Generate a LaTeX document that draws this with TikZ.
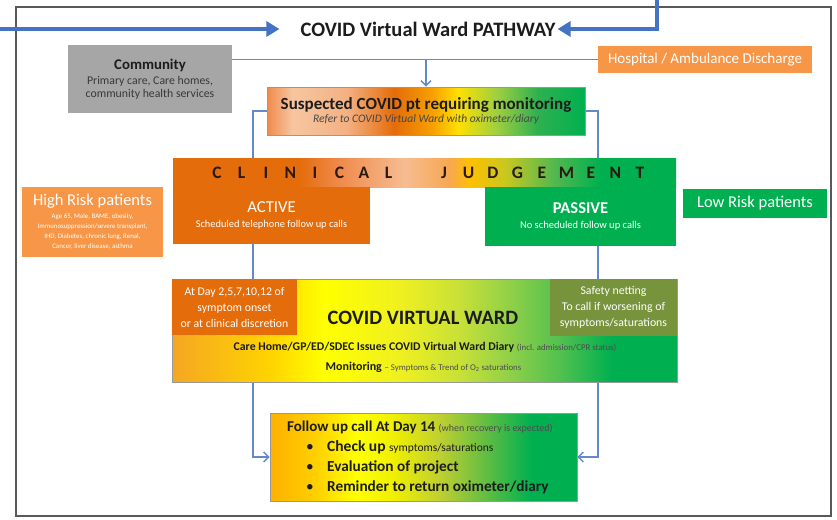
\documentclass[tikz,border=0pt]{standalone}
\usepackage{fontspec}
\setmainfont{Carlito}
\usetikzlibrary{arrows.meta,backgrounds}
\definecolor{dorange}{HTML}{E46C0A}
\definecolor{lorange}{HTML}{F79646}
\definecolor{vgreen}{HTML}{00B050}
\definecolor{olivebox}{HTML}{77933C}
\definecolor{cgray}{HTML}{A6A6A6}
\definecolor{vblue}{HTML}{4472C4}
\definecolor{cblue}{HTML}{6189CC}
\definecolor{txt}{HTML}{1C1C1C}
\definecolor{cjtxt}{HTML}{2A1A0E}
% suspected box shading colours
\definecolor{sA}{HTML}{F08A4B}\definecolor{sB}{HTML}{F6C6A0}\definecolor{sC}{HTML}{F4B183}
\definecolor{sD}{HTML}{E46C0A}\definecolor{sE}{HTML}{F7A000}\definecolor{sF}{HTML}{FFE000}
\definecolor{sG}{HTML}{A0D040}\definecolor{sH}{HTML}{30B050}\definecolor{sI}{HTML}{00B050}
% clinical judgement
\definecolor{cA}{HTML}{E46C0A}\definecolor{cB}{HTML}{F08A4B}\definecolor{cC}{HTML}{F6BC92}
\definecolor{cD}{HTML}{F7A850}\definecolor{cE}{HTML}{FFC000}\definecolor{cF}{HTML}{C8C820}
\definecolor{cG}{HTML}{50B850}\definecolor{cH}{HTML}{00B050}
% virtual ward
\definecolor{vA}{HTML}{F5A623}\definecolor{vB}{HTML}{FFD500}\definecolor{vC}{HTML}{FFFF00}
\definecolor{vD}{HTML}{F0F020}\definecolor{vE}{HTML}{C8E038}\definecolor{vF}{HTML}{90D048}
\definecolor{vG}{HTML}{50C050}\definecolor{vH}{HTML}{00B050}
% follow up
\definecolor{fA}{HTML}{FFB000}\definecolor{fB}{HTML}{FFD000}\definecolor{fC}{HTML}{FFFF00}
\definecolor{fD}{HTML}{F0F000}\definecolor{fE}{HTML}{C0D030}\definecolor{fF}{HTML}{70C040}
\definecolor{fG}{HTML}{00B050}
\pgfdeclarehorizontalshading{sussh}{100bp}{color(0bp)=(sA); color(25bp)=(sA); color(29bp)=(sB); color(37.5bp)=(sC); color(45bp)=(sD); color(51bp)=(sE); color(55bp)=(sF); color(61bp)=(sG); color(67.5bp)=(sH); color(75bp)=(sI); color(100bp)=(sI)}
\pgfdeclarehorizontalshading{cjsh}{100bp}{color(0bp)=(cA); color(25bp)=(cA); color(37.5bp)=(cA); color(41.5bp)=(cB); color(48bp)=(cC); color(52.5bp)=(cD); color(54.5bp)=(cE); color(58bp)=(cF); color(63bp)=(cG); color(67.5bp)=(cH); color(100bp)=(cH)}
\pgfdeclarehorizontalshading{vwsh}{100bp}{color(0bp)=(vA); color(25bp)=(vA); color(35bp)=(vB); color(40bp)=(vC); color(47.5bp)=(vD); color(53.5bp)=(vE); color(58.5bp)=(vF); color(63.5bp)=(vG); color(68.5bp)=(vH); color(100bp)=(vH)}
\pgfdeclarehorizontalshading{fush}{100bp}{color(0bp)=(fA); color(25bp)=(fA); color(32.5bp)=(fB); color(39bp)=(fC); color(45bp)=(fD); color(52.5bp)=(fE); color(59bp)=(fF); color(67.5bp)=(fG); color(100bp)=(fG)}
\newcommand\fsz[2]{\fontsize{#1}{#2}\selectfont}
\newcommand\cjbox[1]{\makebox[24.5pt]{#1}}
\newcommand\bul{\makebox[21pt][l]{•}}
\begin{document}
\begin{tikzpicture}[x=1pt,y=-1pt,
  box/.style={inner sep=0pt, align=center, text=white},
  shbox/.style={box, shade, draw=black!40, line width=0.6pt, text=txt},
  lbl/.style={inner sep=0pt, text=txt},
  conn/.style={draw=cblue, line width=1.5pt},
  arr/.style={conn, -{Straight Barb[length=5pt,width=10pt]}},
  big/.style={draw=vblue, line width=3.8pt, -{Triangle[length=13pt,width=15pt]}}
]
\useasboundingbox (0,0) rectangle (837,519);
\draw[draw=black!65, line width=1.5pt] (16,7) rectangle (831,516);

% title and top arrows
\node[lbl, inner sep=2pt] (title) at (428,29) {\fsz{20.5}{24}\bfseries COVID Virtual Ward PATHWAY};
\coordinate (la) at (0,29);
\coordinate (ra) at (657,0);
\draw[big, shorten >=19pt] (la) -- (title.west);
\draw[big] (ra) |- (title.east);

% top row
\node[box, fill=cgray, text=black!78, font=\fsz{11.8}{12.5}, minimum width=164pt, minimum height=68pt] (com) at (150,79)
  {{\fsz{14.8}{17}\bfseries\color{txt}Community}\\[3pt]Primary care, Care homes,\\community health services};
\node[box, fill=lorange, font=\fsz{15}{17}, minimum width=214pt, minimum height=27pt] (hosp) at (705,59.5)
  {Hospital / Ambulance Discharge};

\node[shbox, shading=sussh, font=\fsz{11.5}{13}\itshape, text=black!72, minimum width=318pt, minimum height=48pt] (sus) at (426,111)
  {{\fsz{17}{19}\bfseries\upshape\color{txt}Suspected COVID pt requiring monitoring}\\Refer to COVID Virtual Ward with oximeter/diary};

% clinical judgement
\node[box, shade, shading=cjsh, minimum width=503pt, minimum height=29pt] (cj) at (424.5,172.5) {};
\node[lbl] (cjt) at (428.5,173) {\fsz{17.5}{19}\bfseries\color{cjtxt}\cjbox{C}\cjbox{L}\cjbox{I}\cjbox{N}\cjbox{I}\cjbox{C}\cjbox{A}\cjbox{L}\hspace{31pt}\cjbox{J}\cjbox{U}\cjbox{D}\cjbox{G}\cjbox{E}\cjbox{M}\cjbox{E}\cjbox{N}\cjbox{T}};

\node[box, fill=dorange, font=\fsz{10.4}{12}, minimum width=197pt, minimum height=57pt] (act) at (271.5,215.5)
  {{\fsz{16.7}{19}ACTIVE}\\[3pt]Scheduled telephone follow up calls};
\node[box, fill=vgreen, font=\fsz{10.5}{12}, minimum width=191pt, minimum height=59pt] (pas) at (580.5,216.5)
  {{\fsz{16.5}{19}\bfseries PASSIVE}\\[3pt]No scheduled follow up calls};

\node[box, fill=lorange, font=\fsz{6.9}{10}, minimum width=141pt, minimum height=70pt] (high) at (92.5,222)
  {{\fsz{16.5}{18}High Risk patients}\\[3pt]Age 65, Male, BAME, obesity,\\Immunosuppression/severe transplant,\\IHD, Diabetes, chronic lung, Renal,\\Cancer, liver disease, asthma};
\node[box, fill=vgreen, font=\fsz{16.5}{18}, minimum width=144pt, minimum height=29pt] (low) at (755,203.5)
  {Low Risk patients};

% virtual ward
\node[shbox, shading=vwsh, minimum width=505pt, minimum height=103pt] (vw) at (424.5,330.5) {};
\node[box, fill=dorange, font=\fsz{11.8}{16}, minimum width=125pt, minimum height=56pt] (vwl) at (234.5,307)
  {At Day 2,5,7,10,12 of\\symptom onset\\or at clinical discretion};
\node[box, fill=olivebox, font=\fsz{11.8}{16}, minimum width=127pt, minimum height=57pt] (vwr) at (613.5,307.5)
  {Safety netting\\To call if worsening of\\symptoms/saturations};
\node[lbl] (vwt) at (423,318) {\fsz{20.4}{24}\bfseries COVID VIRTUAL WARD};
\node[lbl] (vwd) at (425,347) {\fsz{11.8}{14}\bfseries Care Home/GP/ED/SDEC Issues COVID Virtual Ward Diary \fsz{8.8}{10}\mdseries\color{black!70}(incl. admission/CPR status)};
\node[lbl] (vwm) at (423.5,367) {\fsz{12}{14}\bfseries Monitoring \fsz{8.8}{10}\mdseries\color{black!70}-- Symptoms \& Trend of O\textsubscript{2} saturations};

% follow up
\node[shbox, shading=fush, minimum width=307pt, minimum height=88pt] (fu) at (423.5,457) {};
\node[lbl, anchor=west] (fuh) at (287,427) {\fsz{15}{17}\bfseries Follow up call At Day 14 \fsz{10}{12}\mdseries\color{black!70}(when recovery is expected)};
\node[lbl, anchor=west] (fu1) at (306,447) {\fsz{15.5}{17}\bul\bfseries Check up \fsz{11.5}{13}\mdseries symptoms/saturations};
\node[lbl, anchor=west] (fu2) at (306,467) {\fsz{15.3}{17}\bul\bfseries Evaluation of project};
\node[lbl, anchor=west] (fu3) at (306,487) {\fsz{15.3}{17}\bul\bfseries Reminder to return oximeter/diary};

% connectors
\coordinate (lx) at (253,0);
\coordinate (rx) at (598,0);
\begin{pgfonlayer}{background}
\draw[conn] (com.east |- hosp.west) -- (hosp.west);
\draw[arr] (sus.north |- hosp.west) -- (sus.north);
\draw[arr] (sus.west) -| (lx |- vw.center) |- (fu.west);
\draw[arr] (sus.east) -| (rx |- vw.center) |- (fu.east);
\end{pgfonlayer}
\end{tikzpicture}
\end{document}
